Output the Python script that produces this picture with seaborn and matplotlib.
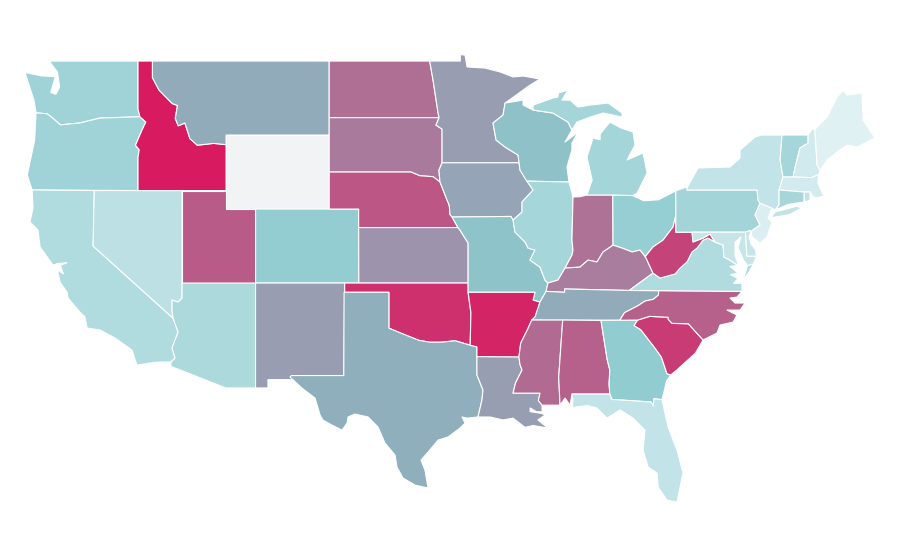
import numpy as np
import seaborn as sns
import matplotlib.pyplot as plt
from matplotlib.collections import PolyCollection
from matplotlib.colors import LinearSegmentedColormap, Normalize

# shared borders, lon/lat
miss_mn_wi = [(-92.11,46.73),(-92.25,46.08),(-92.93,45.65),(-92.72,44.73),(-92.11,44.35),(-91.23,43.92),(-91.16,43.5)]
miss_ia = [(-91.16,43.5),(-91.1,43.11),(-90.21,42.03),(-90.96,41.38),(-90.96,40.84),(-91.57,40.41)]
miss_mo = [(-91.57,40.41),(-91.44,39.76),(-90.76,39.22),(-90.55,38.89),(-90.08,38.78),(-90.42,38.24),(-89.74,37.86),(-89.4,37.16),(-89.2,37.0)]
miss_ar = [(-89.74,35.97),(-90.08,35.16),(-90.3,35.0),(-90.58,34.5),(-91.05,33.75),(-91.17,33.0)]
miss_la = [(-91.17,33.0),(-91.1,32.6),(-90.96,32.3),(-91.4,31.6),(-91.57,31.05),(-89.74,31.05),(-89.85,30.65),(-89.6,30.4)]
ohio_il = [(-89.2,37.0),(-88.52,37.16),(-88.04,37.81)]
ohio_in = [(-88.04,37.81),(-87.03,37.86),(-86.48,38.24),(-85.87,38.14),(-85.46,38.68),(-84.78,39.05)]
ohio_oh = [(-84.78,39.05),(-84.17,38.89),(-83.49,38.68),(-82.95,38.78),(-82.6,38.42)]
ohio_wv = [(-82.6,38.42),(-82.07,38.95),(-81.39,39.32),(-80.71,40.03),(-80.52,40.64)]
ky_wv = [(-82.6,38.42),(-82.54,38.35),(-82.07,37.54)]
va_wv = [(-82.07,37.54),(-81.59,37.27),(-80.57,37.49),(-80.23,37.81),(-79.76,38.14),(-79.42,38.68),(-79.08,38.89),(-78.67,39.32),(-78.33,39.43),(-77.86,39.22)]
md_wv = [(-77.86,39.22),(-78.2,39.65),(-78.67,39.43),(-79.35,39.22),(-79.42,39.75)]
potomac = [(-77.86,39.22),(-77.31,39.05),(-77.25,38.4),(-76.93,38.28),(-76.3,37.95)]
tn_nc = [(-81.68,36.59),(-81.7,36.35),(-82.05,36.12),(-82.6,36.03),(-83.1,35.77),(-84.0,35.4),(-84.32,34.99)]
ga_sc = [(-83.11,35.0),(-83.35,34.7),(-82.9,34.48),(-81.95,33.5),(-81.5,33.0),(-81.12,32.1),(-80.87,32.03)]
nc_sc = [(-83.11,35.0),(-82.3,35.2),(-81.04,35.15),(-81.04,35.05),(-80.78,34.82),(-79.67,34.8),(-78.67,33.92)]
al_ga = [(-85.6,34.98),(-85.18,32.87),(-85.0,32.3),(-85.05,31.55),(-85.0,31.0)]
ga_fl = [(-85.0,31.0),(-84.86,30.71),(-82.2,30.57),(-82.05,30.36),(-82.0,30.75),(-81.46,30.7)]
al_ms = [(-88.2,35.0),(-88.47,31.9),(-88.38,30.4)]
al_fl = [(-85.0,31.0),(-87.57,31.0),(-87.5,30.68),(-87.57,30.28)]
ok_tx = [(-94.48,33.64),(-95.5,33.88),(-96.5,33.8),(-97.2,33.8),(-97.95,33.9),(-98.9,34.2),(-100.0,34.56),(-100.0,36.5)]
ne_sd = [(-96.53,42.46),(-97.0,42.75),(-97.9,42.8),(-98.5,43.0),(-104.05,43.0)]
mo_ks = [(-95.31,40.0),(-95.17,39.86),(-94.96,39.59),(-94.62,39.16),(-94.62,37.0)]
or_wa = [(-123.95,46.2),(-123.2,46.15),(-122.8,45.9),(-122.3,45.55),(-121.0,45.65),(-119.6,45.92),(-119.0,45.93),(-116.9,45.99)]
id_or = [(-117.03,42.0),(-117.03,43.8),(-116.95,44.2),(-117.2,44.45),(-116.76,45.27),(-116.5,45.7),(-116.9,45.99)]
id_mt = [(-116.05,49.0),(-116.05,48.1),(-115.6,47.43),(-114.7,46.7),(-114.35,46.6),(-114.5,45.9),(-114.3,45.5),(-113.85,45.65),(-113.5,44.8),(-113.0,44.45),(-111.9,44.55),(-111.05,44.48)]
az_ca = [(-114.65,35.1),(-114.31,34.35),(-114.72,33.49),(-114.52,32.95),(-114.79,32.73)]
ny_vt = [(-73.31,45.0),(-73.44,43.65),(-73.24,42.73)]
nh_vt = [(-71.54,45.0),(-71.54,44.57),(-72.09,44.3),(-72.43,43.22),(-72.56,42.73)]
md_coast = [(-75.05,38.45),(-75.25,38.03),(-75.65,37.95),(-75.9,38.2),(-76.3,38.9),(-76.1,39.5),(-76.5,39.2),(-76.5,38.5),(-76.3,38.05),(-76.3,37.95)]

states = {
    'WA': [or_wa + [(-117.03,46.4),(-117.03,49.0),(-123.05,49.0),(-122.5,48.4),(-122.35,47.6),(-122.6,47.2),(-122.95,47.3),(-122.65,48.15),(-123.6,48.2),(-124.7,48.38),(-124.1,46.9)]],
    'OR': [[(-124.55,42.84),(-124.22,42.03),(-117.03,42.0)] + id_or[1:] + or_wa[::-1][1:] + [(-124.05,44.7)]],
    'CA': [[(-124.22,42.03),(-120.0,42.0),(-120.08,39.0)] + az_ca + [(-115.74,32.73),(-117.1,32.57),(-117.44,33.38),(-118.59,34.03),(-119.61,34.46),(-120.49,34.57),(-120.63,35.16),(-120.97,35.43),(-121.78,36.19),(-121.85,36.51),(-122.32,37.05),(-122.46,37.54),(-122.46,37.7),(-122.1,37.5),(-122.3,37.95),(-121.85,38.1),(-122.5,38.05),(-122.8,37.97),(-123.68,38.95),(-123.82,39.86),(-124.36,40.3),(-124.16,41.05)]],
    'NV': [[(-120.0,42.0),(-114.04,42.0),(-114.04,36.19),(-114.31,35.97),(-114.72,36.08),(-114.72,35.54),(-114.65,35.1),(-120.08,39.0)]],
    'ID': [[(-117.03,49.0)] + id_mt + [(-111.05,42.0)] + id_or + [(-117.03,46.4)]],
    'MT': [id_mt + [(-111.05,45.0),(-104.05,45.0),(-104.05,49.0)]],
    'WY': [[(-111.05,45.0),(-104.05,45.0),(-104.05,41.0),(-111.05,41.0)]],
    'UT': [[(-114.04,42.0),(-111.05,42.0),(-111.05,41.0),(-109.05,41.0),(-109.05,37.0),(-114.04,37.0)]],
    'AZ': [[(-114.04,37.0),(-109.05,37.0),(-109.05,31.33),(-111.07,31.33),(-114.81,32.5)] + az_ca[::-1] + [(-114.72,35.54),(-114.72,36.08),(-114.31,35.97),(-114.04,36.19)]],
    'CO': [[(-109.05,41.0),(-102.05,41.0),(-102.04,37.0),(-109.05,37.0)]],
    'NM': [[(-109.05,37.0),(-103.0,37.0),(-103.06,32.0),(-106.62,32.0),(-106.53,31.78),(-108.21,31.78),(-108.21,31.33),(-109.05,31.33)]],
    'ND': [[(-104.05,49.0),(-97.23,49.0),(-97.0,47.97),(-96.66,46.19),(-96.59,45.94),(-104.05,45.94)]],
    'SD': [[(-104.05,45.94),(-96.59,45.94),(-96.8,45.54),(-96.39,45.32),(-96.39,43.5),(-96.6,43.1)] + ne_sd],
    'NE': [ne_sd + [(-104.05,41.0),(-102.05,41.0),(-102.05,40.0),(-95.31,40.0),(-95.71,40.57),(-95.85,40.7),(-95.9,41.2),(-96.05,41.49)]],
    'KS': [[(-102.05,40.0)] + mo_ks + [(-102.04,37.0)]],
    'OK': [[(-103.0,37.0),(-94.62,37.0),(-94.62,36.5),(-94.43,35.4)] + ok_tx + [(-103.0,36.5)]],
    'TX': [[(-103.04,36.5)] + ok_tx[::-1] + [(-94.02,33.55),(-94.02,32.03),(-93.61,31.22),(-93.68,30.68),(-93.95,29.76),(-94.69,29.7),(-95.03,29.76),(-94.83,29.43),(-95.17,29.16),(-95.98,28.68),(-96.66,28.51),(-97.34,27.86),(-97.82,27.43),(-97.55,26.89),(-97.34,25.92),(-98.22,26.08),(-99.04,26.46),(-99.45,27.05),(-99.58,27.7),(-100.26,28.35),(-100.74,29.22),(-101.41,29.76),(-102.3,29.92),(-102.77,29.76),(-102.84,29.43),(-103.18,29.05),(-103.86,29.32),(-104.47,29.59),(-104.67,29.86),(-105.01,30.78),(-105.9,31.32),(-106.71,31.92),(-106.62,32.0),(-103.06,32.0)]],
    'MN': [[(-97.23,49.0),(-95.15,49.0),(-95.15,49.35),(-94.83,49.32),(-94.69,48.68),(-93.47,48.62),(-92.45,48.41),(-91.57,48.14),(-90.89,48.19),(-89.74,48.03),(-90.42,47.7)] + miss_mn_wi + [(-96.39,43.5),(-96.39,45.32),(-96.8,45.54),(-96.59,45.94),(-96.66,46.19),(-97.0,47.97)]],
    'IA': [[(-96.39,43.5)] + miss_ia + [(-91.72,40.6),(-95.71,40.57),(-95.85,40.7),(-95.9,41.2),(-96.05,41.49),(-96.53,42.46),(-96.6,43.1)]],
    'MO': [[(-95.71,40.57),(-91.72,40.6)] + miss_mo + [(-89.33,36.55),(-89.74,35.97),(-90.21,36.08),(-90.08,36.5),(-94.62,36.5)] + mo_ks[::-1][1:]],
    'AR': [[(-94.62,36.5),(-90.08,36.5),(-90.21,36.08)] + miss_ar + [(-94.02,33.02),(-94.02,33.55),(-94.48,33.64),(-94.43,35.4)]],
    'LA': [[(-94.02,33.02)] + miss_la + [(-89.6,30.03),(-90.0,30.05),(-90.41,30.25),(-90.41,30.05),(-89.6,29.95),(-89.4,29.86),(-89.88,29.6),(-89.2,29.16),(-90.21,29.3),(-90.76,29.2),(-91.57,29.7),(-92.25,29.6),(-93.13,29.76),(-93.95,29.76),(-93.68,30.68),(-93.61,31.22),(-94.02,32.03)]],
    'WI': [miss_mn_wi[::-1] + [(-90.89,46.89),(-90.89,46.62),(-90.21,46.35),(-88.86,46.19),(-87.84,45.7),(-87.57,45.27),(-88.04,44.62),(-87.16,45.16),(-87.57,44.57),(-87.57,44.19),(-87.91,43.27),(-87.77,42.46),(-90.64,42.51),(-91.1,43.11)]],
    'IL': [[(-90.64,42.51),(-87.77,42.46),(-87.5,41.65),(-87.57,39.32),(-87.5,38.78),(-87.57,38.51)] + ohio_il[::-1] + miss_mo[::-1][1:] + miss_ia[::-1][1:-2]],
    'IN': [[(-87.5,41.65),(-87.0,41.67),(-86.55,41.76),(-84.8,41.76)] + ohio_in[::-1] + [(-87.57,38.51),(-87.5,38.78),(-87.57,39.32)]],
    'OH': [[(-84.78,39.05),(-84.8,41.76),(-83.45,41.73),(-82.7,41.45),(-81.7,41.5),(-80.52,41.98)] + ohio_wv[::-1][:-1] + ohio_oh[::-1][:-1]],
    'MI': [[(-84.8,41.76),(-86.55,41.76),(-86.2,42.57),(-86.55,43.81),(-86.14,44.84),(-85.66,44.75),(-85.66,45.05),(-85.1,45.6),(-84.98,45.7),(-84.3,45.4),(-83.42,45.16),(-83.29,44.46),(-83.83,43.65),(-82.74,44.03),(-82.47,42.95),(-83.15,41.86),(-83.45,41.73)],
           [(-90.21,46.35),(-90.21,46.62),(-88.86,47.0),(-88.52,47.05),(-88.5,47.27),(-87.84,47.43),(-88.25,46.89),(-87.7,46.89),(-87.16,46.51),(-86.34,46.62),(-85.12,46.73),(-84.17,46.19),(-84.17,45.97),(-84.78,46.08),(-85.46,46.19),(-86.34,45.97),(-87.23,45.7),(-87.57,45.27),(-87.84,45.7),(-88.86,46.19)]],
    'KY': [[(-89.33,36.55),(-89.2,37.0)] + ohio_il[1:] + ohio_in[1:] + ohio_oh[1:] + ky_wv[1:] + [(-83.68,36.6),(-88.07,36.68),(-88.07,36.5)]],
    'TN': [[(-90.3,35.0),(-90.08,35.16),(-89.74,35.97),(-89.33,36.55),(-88.07,36.5),(-88.07,36.68),(-83.68,36.6)] + tn_nc],
    'MS': [[(-90.3,35.0),(-88.2,35.0)] + al_ms[1:] + miss_la[::-1] + [(-91.05,33.75),(-90.58,34.5)]],
    'AL': [[(-88.2,35.0)] + al_ga + al_fl[1:2] + [(-87.7,30.4),(-88.04,30.78)] + al_ms[::-1][:-1]],
    'GA': [[(-85.6,34.98),(-84.32,34.99)] + ga_sc + [(-81.15,31.7),(-81.3,31.2)] + ga_fl[::-1] + al_ga[::-1][1:]],
    'FL': [al_fl[::-1][:-1] + ga_fl + [(-81.05,29.22),(-80.44,27.97),(-80.03,26.73),(-80.44,25.16),(-81.12,25.27),(-81.72,25.97),(-81.79,26.73),(-82.4,27.05),(-82.74,27.97),(-82.61,29.05),(-83.42,29.7),(-84.3,30.14),(-85.19,29.7),(-85.87,30.24),(-86.5,30.38)]],
    'SC': [nc_sc + [(-79.2,33.2),(-79.9,32.7),(-80.45,32.3)] + ga_sc[::-1]],
    'NC': [[(-81.68,36.59),(-76.03,36.55),(-76.37,36.24),(-76.84,36.19),(-76.5,35.92),(-75.82,35.92),(-76.16,35.54),(-77.04,35.54),(-76.37,35.27),(-76.63,34.89),(-77.52,34.73),(-77.72,34.3)] + nc_sc[::-1] + tn_nc[::-1][:-1]],
    'VA': [[(-83.68,36.6),(-82.07,37.54)] + va_wv[1:] + potomac[1:] + [(-76.85,37.9),(-76.3,37.55),(-76.8,37.45),(-76.3,37.25),(-76.6,36.98),(-76.03,37.0),(-76.03,36.55),(-81.68,36.59)],
           [(-75.95,37.15),(-75.6,37.55),(-75.25,38.03),(-75.65,37.95)]],
    'WV': [ohio_wv + [(-80.52,39.75),(-79.42,39.75)] + md_wv[::-1][1:] + va_wv[::-1][1:] + ky_wv[::-1][:-1]],
    'PA': [[(-80.52,41.98),(-79.76,42.2),(-79.76,42.03),(-75.0,42.03),(-74.94,41.49),(-74.8,41.32),(-75.14,40.68),(-74.8,40.14),(-75.4,39.8),(-75.5,39.83),(-75.79,39.75),(-80.52,39.75)]],
    'MD': [[(-79.42,39.75),(-75.79,39.75),(-75.7,38.46)] + md_coast + potomac[::-1][1:] + md_wv[1:-1]],
    'DE': [[(-75.79,39.75),(-75.5,39.83),(-75.4,39.8),(-75.55,39.5),(-75.4,39.1),(-75.1,38.8),(-75.05,38.45),(-75.7,38.46)]],
    'NJ': [[(-74.8,41.32),(-73.99,41.05),(-74.26,40.51),(-73.99,40.3),(-74.33,39.49),(-74.8,39.16),(-75.35,39.49),(-75.4,39.8),(-74.8,40.14),(-75.14,40.68)]],
    'NY': [[(-79.76,42.14),(-79.01,43.22),(-76.84,43.27),(-76.16,43.76),(-76.16,44.19),(-75.14,44.89),(-74.7,45.0)] + ny_vt + [(-73.51,42.03),(-73.51,41.22),(-73.78,40.95),(-73.99,41.05),(-74.8,41.32),(-74.94,41.49),(-75.0,42.03),(-79.76,42.03)],
           [(-74.03,40.6),(-73.75,40.85),(-72.3,41.15),(-72.0,41.05),(-72.8,40.7),(-73.9,40.55)]],
    'VT': [ny_vt + nh_vt[::-1]],
    'NH': [nh_vt + [(-71.3,42.7),(-70.82,42.87),(-70.73,43.08),(-70.93,43.4),(-71.08,45.3),(-71.3,45.3)]],
    'ME': [[(-71.08,45.3),(-70.25,45.97),(-69.57,47.05),(-69.16,47.43),(-68.89,47.16),(-67.88,47.27),(-67.81,45.81),(-67.0,44.84),(-68.2,44.35),(-68.89,44.46),(-69.57,44.08),(-70.25,43.65),(-70.73,43.08),(-70.93,43.4)]],
    'MA': [[(-73.51,42.03),(-73.24,42.73),(-72.56,42.73),(-71.3,42.7),(-70.82,42.87),(-70.87,42.41),(-70.52,41.76),(-70.05,41.76),(-71.07,41.6),(-71.27,41.76),(-71.41,41.92),(-71.82,41.92)]],
    'RI': [[(-71.82,41.92),(-71.41,41.92),(-71.41,41.49),(-71.75,41.38)]],
    'CT': [[(-73.51,42.03),(-71.82,41.92),(-71.82,41.38),(-72.9,41.25),(-73.78,40.95),(-73.51,41.22)]],
}

# values, Wyoming has none
values = {'WA':39,'OR':39,'CA':29,'NV':22,'ID':100,'MT':59,'WY':np.nan,'UT':82,'AZ':32,'CO':47,'NM':63,
          'ND':76,'SD':73,'NE':83,'KS':66,'OK':94,'TX':58,'MN':63,'IA':61,'MO':52,'AR':97,'LA':62.5,
          'WI':53,'IL':36,'IN':75,'OH':45,'MI':37,'KY':72,'TN':59,'MS':77,'AL':80,'GA':49,'FL':18,
          'SC':91,'NC':80,'VA':29,'WV':88,'PA':38,'MD':16,'DE':16,'NJ':3,'NY':18,'VT':36,'NH':10,
          'ME':0,'MA':8,'RI':20,'CT':35}

sns.set_theme(style='white')
cmap = LinearSegmentedColormap.from_list(
    'states', [(0, '#e0f1f4'), (0.5, '#8ecbcf'), (0.58, '#90afbd'), (1, '#d81b60')], N=256)
cmap.set_bad('#f2f3f5')

polys, vals = [], []
for name, parts in states.items():
    for part in parts:
        polys.append(part)
        vals.append(values[name])

fig = plt.figure(figsize=(9, 5.6), dpi=100)
ax = fig.add_axes([0, 0, 1, 1])
coll = PolyCollection(polys, array=np.ma.masked_invalid(vals), cmap=cmap, norm=Normalize(0, 100),
                      edgecolors='white', linewidths=0.8)
ax.add_collection(coll)
ax.set_xlim(-126.4, -65.3)
ax.set_ylim(22.03, 52.3)
ax.axis('off')
fig.savefig('out.png', dpi=100)
